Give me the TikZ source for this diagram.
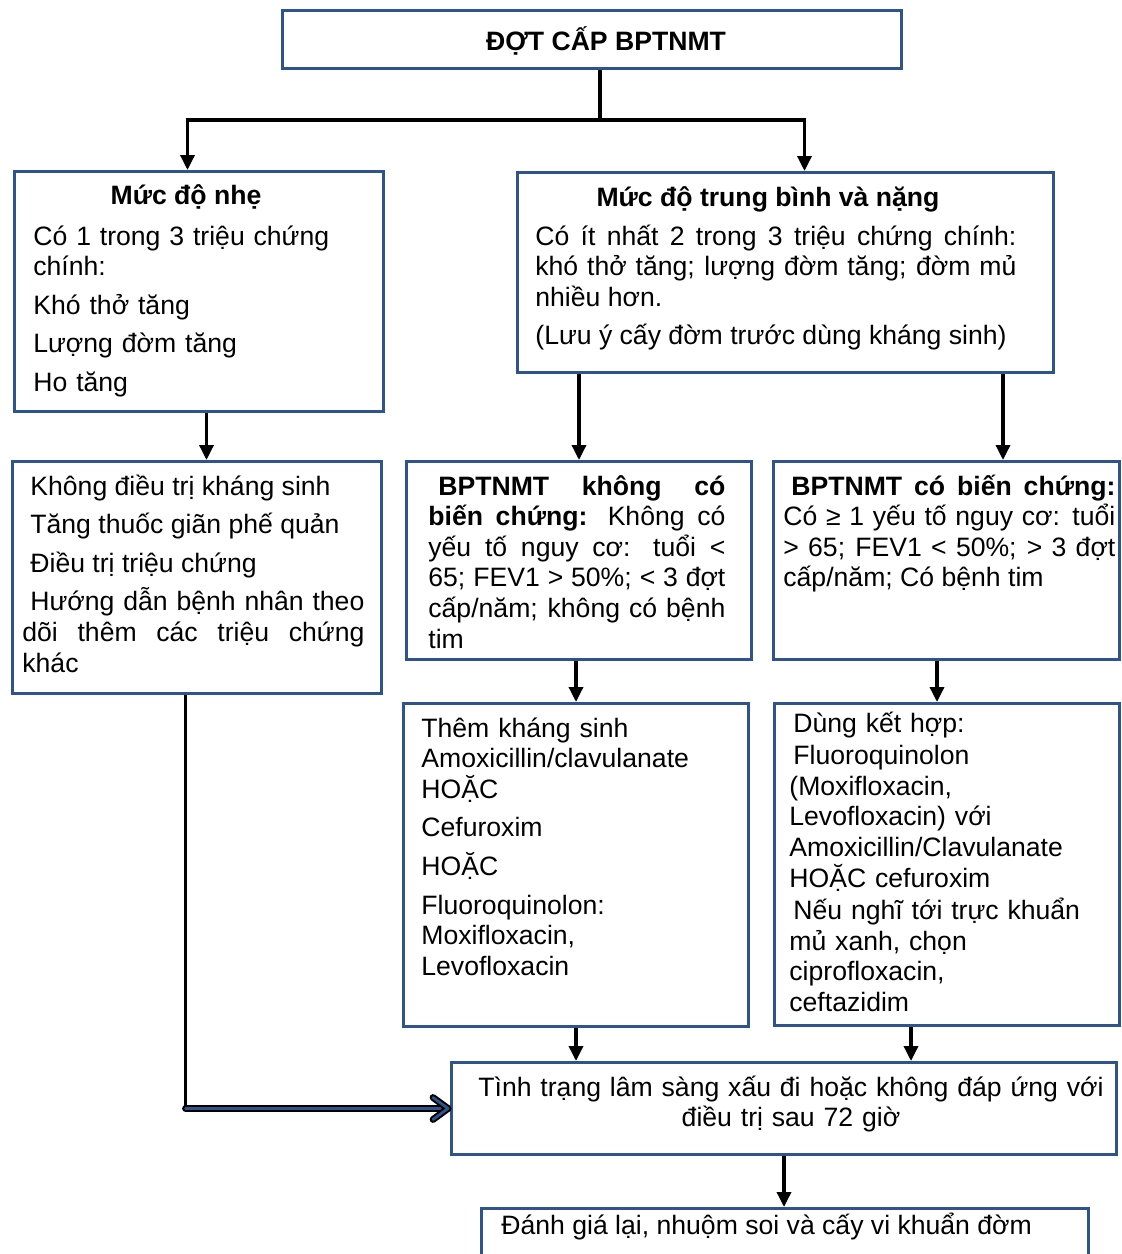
\documentclass[tikz,border=0pt]{standalone}
\usepackage{fontspec}
\setmainfont{Liberation Sans}
\usepackage{tikz}
\usetikzlibrary{arrows.meta,positioning,calc}
\definecolor{boxblue}{RGB}{47,84,140}
\tikzstyle{arrow} = [line width=1.7pt, -{Triangle[length=7.5pt,width=7pt]}]
\tikzstyle{box} = [draw=boxblue, line width=1.5pt, anchor=north west, inner sep=0pt]
\tikzstyle{txt} = [anchor=base west, inner sep=0pt]

\begin{document}
\begin{tikzpicture}[x=0.5pt,y=-0.5pt,font=\fontsize{13.3}{15.3}\selectfont]
\tikzset{line/.style={line width=1.7pt},
dbl/.style={line width=1pt, double=boxblue, double distance=1.4pt, line cap=round, line join=round}}
\useasboundingbox (0,0) rectangle (1121,1254);
\clip (0,0) rectangle (1121,1254);

% boxes
\node[box, minimum width=309.5pt, minimum height=29pt] (title) at (281,9) {};
\node[box, minimum width=184.5pt, minimum height=120pt] (mild) at (13,170) {};
\node[box, minimum width=268pt, minimum height=100pt] (moderate) at (516,171) {};
\node[box, minimum width=184.5pt, minimum height=116pt] (mildtx) at (11,460) {};
\node[box, minimum width=172.5pt, minimum height=99pt] (nocomp) at (405,460) {};
\node[box, minimum width=173pt, minimum height=99pt] (comp) at (772,460) {};
\node[box, minimum width=172.5pt, minimum height=161.5pt] (abx) at (402,702) {};
\node[box, minimum width=172.5pt, minimum height=161pt] (combo) at (773,702) {};
\node[box, minimum width=332.5pt, minimum height=46pt] (worse) at (450,1061) {};
\node[box, minimum width=303.5pt, minimum height=40pt] (reassess) at (480,1207) {};

% texts
\node[anchor=base, inner sep=0pt] (titletxt) at (606,50) {\textbf{ĐỢT CẤP BPTNMT}};
\node[anchor=base, inner sep=0pt] (mildhead) at (186,204) {\textbf{Mức độ nhẹ}};
\node[txt, text width=170pt, align=left] (mildtxt) at (33,245)
{Có 1 trong 3 triệu chứng\\ chính:\\[4pt] Khó thở tăng\\[4pt] Lượng đờm tăng\\[4pt] Ho tăng};
\node[anchor=base, inner sep=0pt] (modhead) at (768,206) {\textbf{Mức độ trung bình và nặng}};
\node[txt, text width=240.5pt, align=justify] (modtxt) at (535,245)
{Có ít nhất 2 trong 3 triệu chứng chính:\linebreak khó thở tăng; lượng đờm tăng; đờm mủ\linebreak nhiều hơn.\\[4pt] (Lưu ý cấy đờm trước dùng kháng sinh)};
\node[txt, text width=171pt, align=justify] (mildtxtx) at (22,495)
{\hspace*{4pt}Không điều trị kháng sinh\\[4pt] \hspace*{4pt}Tăng thuốc giãn phế quản\\[4pt] \hspace*{4pt}Điều trị triệu chứng\\[4pt] \hspace*{4pt}Hướng dẫn bệnh nhân theo\linebreak dõi thêm các triệu chứng\linebreak khác};
\node[txt, text width=148.5pt, align=justify] (nocomptxt) at (428,495)
{\hspace*{5pt}\textbf{BPTNMT không có}\linebreak \textbf{biến chứng:} Không có\linebreak yếu tố nguy cơ: tuổi <\linebreak 65; FEV1 > 50\%; < 3 đợt\linebreak cấp/năm; không có bệnh\linebreak tim};
\node[txt, text width=166pt, align=justify] (comptxt) at (783,495)
{\hspace*{4pt}\textbf{BPTNMT có biến chứng:}\linebreak Có ≥ 1 yếu tố nguy cơ: tuổi\linebreak > 65; FEV1 < 50\%; > 3 đợt\linebreak cấp/năm; Có bệnh tim};
\node[txt, text width=165pt, align=left] (abxtxt) at (421,737)
{Thêm kháng sinh\\ Amoxicillin/clavulanate\\ HOẶC\\[4pt] Cefuroxim\\[4pt] HOẶC\\[4pt] Fluoroquinolon:\\ Moxifloxacin,\\ Levofloxacin};
\node[txt, text width=165pt, align=left] (combotxt) at (789,732)
{\hspace*{2pt}Dùng kết hợp:\\[1pt] \hspace*{2pt}Fluoroquinolon\\ (Moxifloxacin,\\ Levofloxacin) với\\ Amoxicillin/Clavulanate\\ HOẶC cefuroxim\\[1pt] \hspace*{2pt}Nếu nghĩ tới trực khuẩn\\ mủ xanh, chọn\\ ciprofloxacin,\\ ceftazidim};
\node[anchor=base, inner sep=0pt, text width=330pt, align=center] (worsetxt) at (791,1096)
{Tình trạng lâm sàng xấu đi hoặc không đáp ứng với\\ điều trị sau 72 giờ};
\node[txt] (reassesstxt) at (501,1234) {Đánh giá lại, nhuộm soi và cấy vi khuẩn đờm};

% connectors
\coordinate (split) at (600,120);
\draw[line] (split |- title.south) -- (split);
\draw[arrow] (split) -| ([xshift=-5.75pt]mild.north);
\draw[arrow] (split) -| ([xshift=9.5pt]moderate.north);
\draw[arrow] ([xshift=3.75pt]mild.south) -- ([xshift=3.75pt]mild.south |- mildtx.north);
\draw[arrow] (nocomp.north |- moderate.south) -- (nocomp.north);
\draw[arrow] ([xshift=-26pt]moderate.south east) -- ([xshift=-26pt]moderate.south east |- comp.north);
\draw[arrow] (abx.north |- nocomp.south) -- (abx.north);
\draw[arrow] ([xshift=-5pt]combo.north |- comp.south) -- ([xshift=-5pt]combo.north);
\draw[arrow] (abx.south) -- (abx.south |- worse.north);
\draw[arrow] ([xshift=-18pt]combo.south) -- ([xshift=-18pt]combo.south |- worse.north);
\draw[arrow] (worse.south) -- (worse.south |- reassess.north);
\coordinate (corner) at ([xshift=-5.75pt]mildtx.south |- worse.west);
\draw[line] ([xshift=-5.75pt]mildtx.south) -- ([yshift=1.5pt]corner);
\draw[dbl] (corner) -- ([xshift=-1pt]worse.west);
\draw[dbl] ([shift={(-8.5pt,5.5pt)}]worse.west) -- ([xshift=-1pt]worse.west) -- ([shift={(-8.5pt,-5.5pt)}]worse.west);
\end{tikzpicture}
\end{document}
